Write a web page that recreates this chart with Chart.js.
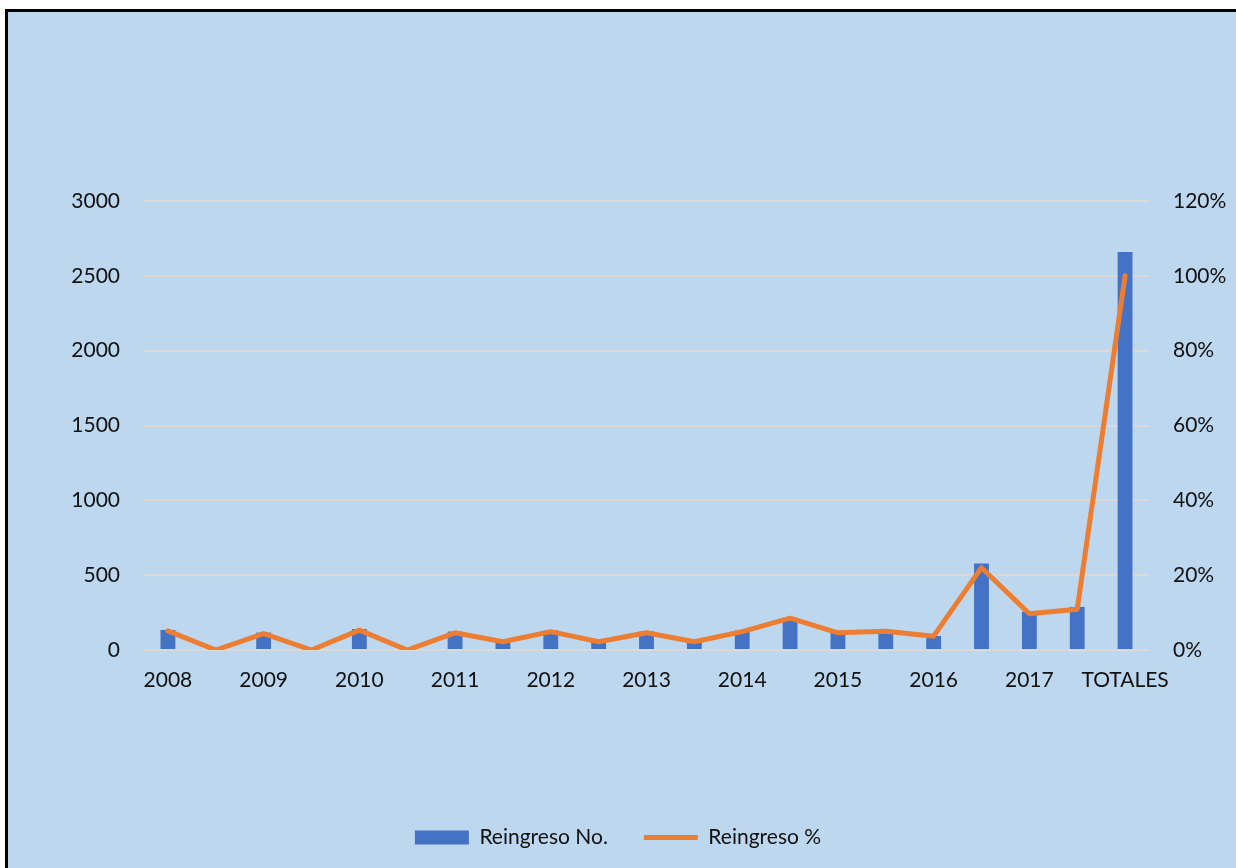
<!DOCTYPE html>
<html>
<head>
<meta charset="utf-8">
<script src="https://cdn.jsdelivr.net/npm/chart.js@4"></script>
<style>
  html, body { margin: 0; padding: 0; background: #fff; overflow: hidden; }
  #frame {
    position: absolute; left: 5px; top: 9px; width: 1300px; height: 900px;
    background: #BDD7EE; border-left: 3px solid #000; border-top: 3px solid #000;
  }
  #chart { position: absolute; left: 0; top: 0; }
</style>
</head>
<body>
<div id="frame"></div>
<canvas id="chart" width="1236" height="868"></canvas>
<script>
const categories = ['2008', '', '2009', '', '2010', '', '2011', '', '2012', '', '2013', '', '2014', '', '2015', '', '2016', '', '2017', '', 'TOTALES'];
const reingresoNo = [134, 0, 116, 0, 140, 0, 123, 57, 130, 57, 123, 57, 130, 215, 123, 130, 94, 578, 255, 288, 2660];
const reingresoPct = [5.1, 0, 4.4, 0, 5.3, 0, 4.6, 2.2, 4.9, 2.2, 4.6, 2.2, 4.9, 8.5, 4.6, 5.0, 3.7, 22.0, 9.7, 10.9, 100];
const leftTicks = [0, 500, 1000, 1500, 2000, 2500, 3000];
const rightTicks = [0, 20, 40, 60, 80, 100, 120];

const COLORS = {
    bar: '#4472C4',
    line: '#ED7D31',
    grid: '#D9D9D9',
    text: '#111111'
};

Chart.defaults.font.family = 'Lato';
Chart.defaults.font.size = 21;
Chart.defaults.color = COLORS.text;

function getCanvas() {
    return document.getElementById('chart').getContext('2d');
}

let chart = new Chart(getCanvas(), {
    data: {
        labels: categories,
        datasets: [
            {
                type: 'line',
                label: 'Reingreso %',
                data: reingresoPct,
                yAxisID: 'yPct',
                borderColor: COLORS.line,
                backgroundColor: COLORS.line,
                borderWidth: 5,
                borderCapStyle: 'round',
                borderJoinStyle: 'round',
                pointRadius: 0,
                pointStyle: 'line',
                tension: 0,
                order: 0
            },
            {
                type: 'bar',
                label: 'Reingreso No.',
                data: reingresoNo,
                yAxisID: 'yNo',
                backgroundColor: COLORS.bar,
                borderWidth: 0,
                pointStyle: 'rect',
                categoryPercentage: 1,
                barPercentage: 0.31,
                order: 1
            }
        ]
    },
    options: {
        responsive: false,
        animation: false,
        layout: { padding: { top: 201, left: 0, right: 0, bottom: 10 } },
        plugins: {
            tooltip: { enabled: false },
            legend: {
                position: 'bottom',
                reverse: true,
                labels: {
                    usePointStyle: true,
                    pointStyleWidth: 54,
                    boxHeight: 14,
                    padding: 36,
                    color: COLORS.text
                }
            }
        },
        scales: {
            x: {
                grid: { display: false },
                border: { display: false },
                ticks: { autoSkip: false, maxRotation: 0, padding: 10 },
                afterFit: function (scale) { scale.height = 141; }
            },
            yNo: {
                position: 'left',
                min: 0,
                max: 3000,
                afterBuildTicks: function (scale) { scale.ticks = leftTicks.map(v => ({ value: v })); },
                grid: { color: COLORS.grid, lineWidth: 2, drawTicks: false },
                border: { display: false },
                ticks: { padding: 24, callback: v => String(v) },
                afterFit: function (scale) { scale.width = 144; }
            },
            yPct: {
                position: 'right',
                min: 0,
                max: 120,
                afterBuildTicks: function (scale) { scale.ticks = rightTicks.map(v => ({ value: v })); },
                grid: { display: false, drawTicks: false },
                border: { display: false },
                ticks: { padding: 24, callback: v => v + '%' },
                afterFit: function (scale) { scale.width = 87; }
            }
        }
    }
});
</script>
</body>
</html>
